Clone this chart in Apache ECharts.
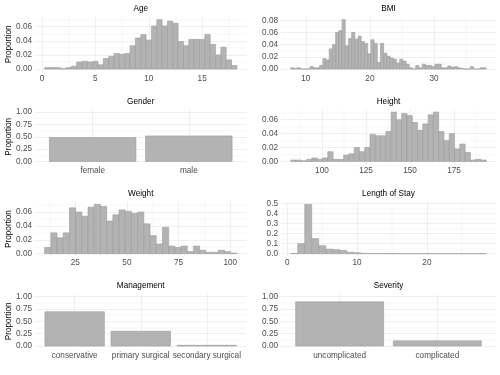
<!DOCTYPE html>
<html><head><meta charset="utf-8">
<script src="https://cdn.jsdelivr.net/npm/echarts@6/dist/echarts.min.js"></script>
<style>html,body{margin:0;padding:0;background:#fff}#c{width:500px;height:375px}</style>
</head><body><div id="c"></div>
<script>
// ---------- DATA ----------
const ageBinStart = 0.25, ageBinWidth = 0.5;
const ageValues = [0.002,0.002,0.002,0.0005,0.002,0.004,0.010,0.011,0.010,0.011,0.006,0.015,
  0.018,0.022,0.021,0.022,0.033,0.044,0.049,0.041,0.061,0.070,0.061,0.068,
  0.065,0.039,0.033,0.042,0.042,0.042,0.049,0.035,0.020,0.031,0.013,0.005];
const ageTicks = [0, 5, 10, 15];

const bmiBinStart = 7.65, bmiBinWidth = 0.5;
const bmiValues = [0.002,0.001,0.002,0,0,0,0.004,0.002,0.002,0.006,0.017,0.015,0.033,0.040,0.060,0.063,
  0.081,0.038,0.050,0.060,0.049,0.054,0.045,0.042,0.025,0.048,0.042,0.011,0.042,0.026,0.021,0.018,
  0.016,0.010,0.016,0.013,0.008,0.002,0,0.006,0.002,0.008,0.006,0.006,0.004,0.008,0.008,0.002,
  0.002,0.005,0.003,0.004,0.002,0.001,0,0,0.004,0,0,0.002,0.002];
const bmiTicks = [10, 20, 30];

const genderCats = ['female', 'male'];
const genderValues = [0.483, 0.517];

const heightBinStart = 82.3, heightBinWidth = 3;
const heightValues = [0.002,0.002,0.001,0.003,0.005,0.003,0.005,0.014,0.003,0.003,0.009,0.011,0.020,
  0.014,0.020,0.039,0.037,0.037,0.043,0.071,0.060,0.069,0.066,0.056,0.045,0.054,0.067,0.071,
  0.043,0.030,0.040,0.018,0.025,0.013,0.002,0.003,0.002];
const heightTicks = [100, 125, 150, 175];

const weightBinStart = 10.2, weightBinWidth = 3;
const weightValues = [0.009,0.030,0.023,0.030,0.066,0.060,0.054,0.067,0.071,0.068,0.047,0.056,0.063,
  0.061,0.058,0.060,0.043,0.026,0.014,0.038,0.011,0.009,0.011,0.003,0.011,0.005,0.002,0.002,
  0.005,0.003,0.001];
const weightTicks = [25, 50, 75, 100];

const losBinStart = 0.5, losBinWidth = 1;
const losValues = [0.003,0.10,0.49,0.15,0.08,0.045,0.04,0.033,0.015,0.01,0.004,0.003,0.003,0.003,
  0.002,0.002,0.001,0.001,0.001,0.001,0.001,0.001,0.0005,0.0005,0.0005,0.0005,0.0005,0.001];
const losTicks = [0, 10, 20];

const managementCats = ['conservative', 'primary surgical', 'secondary surgical'];
const managementValues = [0.694, 0.300, 0.014];

const severityCats = ['uncomplicated', 'complicated'];
const severityValues = [0.895, 0.105];

const propTicks = [0, 0.25, 0.5, 0.75, 1];
const yLabel = 'Proportion';

// ---------- LAYOUT / STYLE ----------
const FONT = '"Liberation Sans", Arial, Helvetica, sans-serif';
const FS = 8.2;
const colLeft = [35, 281], colWidth = [211.5, 215];
const rowTop = [17.2, 109.6, 201.9, 294.2], rowHeight = 54.3;
const GRID_MAJOR = '#ebebeb';

function histData(start, width, values) {
  return values.map((v, i) => [start + i * width, start + (i + 1) * width, v]);
}
function catData(values) {
  return values.map((v, i) => [i + 1 - 0.45, i + 1 + 0.45, v]);
}

const panels = [
  {title:'Age', kind:'hist', data: histData(ageBinStart, ageBinWidth, ageValues), ticks: ageTicks, col:0, row:0},
  {title:'BMI', kind:'hist', data: histData(bmiBinStart, bmiBinWidth, bmiValues), ticks: bmiTicks, col:1, row:0},
  {title:'Gender', kind:'cat', cats: genderCats, data: catData(genderValues), col:0, row:1},
  {title:'Height', kind:'hist', data: histData(heightBinStart, heightBinWidth, heightValues), ticks: heightTicks, col:1, row:1},
  {title:'Weight', kind:'hist', data: histData(weightBinStart, weightBinWidth, weightValues), ticks: weightTicks, col:0, row:2},
  {title:'Length of Stay', kind:'hist', data: histData(losBinStart, losBinWidth, losValues), ticks: losTicks, col:1, row:2, yStep:0.1, yDigits:1},
  {title:'Management', kind:'cat', cats: managementCats, data: catData(managementValues), col:0, row:3},
  {title:'Severity', kind:'cat', cats: severityCats, data: catData(severityValues), col:1, row:3}
];

const grids = [], xAxes = [], yAxes = [], series = [], graphics = [];

panels.forEach((p, k) => {
  const left = colLeft[p.col], top = rowTop[p.row], width = colWidth[p.col];
  grids.push({left: left, top: top, width: width, height: rowHeight, containLabel: false});

  let xmin, xmax, xInt, xFmt, minorX;
  if (p.kind === 'hist') {
    const lo = p.data[0][0], hi = p.data[p.data.length - 1][1];
    const pad = 0.05 * (hi - lo);
    xmin = lo - pad; xmax = hi + pad;
    xInt = p.ticks[1] - p.ticks[0];
    xFmt = v => String(Math.round(v));
    minorX = true;
  } else {
    xmin = 1 - 0.6; xmax = p.cats.length + 0.6;
    xInt = 1;
    const cats = p.cats;
    xFmt = v => { const i = Math.round(v) - 1; return (Math.abs(v - (i + 1)) < 1e-6 && cats[i]) ? cats[i] : ''; };
    minorX = false;
  }

  let ymin, ymax, yInt, yDig;
  if (p.kind === 'hist') {
    const m = Math.max(...p.data.map(d => d[2]));
    ymin = -0.05 * m; ymax = 1.05 * m;
    yInt = p.yStep || 0.02; yDig = p.yDigits || 2;
  } else {
    const lo = propTicks[0], hi = propTicks[propTicks.length - 1];
    ymin = lo - 0.05 * (hi - lo); ymax = hi + 0.05 * (hi - lo);
    yInt = propTicks[1] - propTicks[0]; yDig = 2;
  }

  xAxes.push({
    gridIndex: k, type: 'value', min: xmin, max: xmax,
    minInterval: xInt, maxInterval: xInt, splitNumber: 5,
    axisLine: {show: false, onZero: false}, axisTick: {show: false},
    axisLabel: {show: true, showMinLabel: false, showMaxLabel: false, color: '#4d4d4d',
      fontSize: FS, fontFamily: FONT, margin: 3, formatter: xFmt},
    splitLine: {show: true, showMinLine: false, showMaxLine: false, lineStyle: {color: GRID_MAJOR, width: 0.8}},
    minorTick: {show: false, splitNumber: 2},
    minorSplitLine: {show: minorX, lineStyle: {color: GRID_MAJOR, width: 0.4}}
  });
  yAxes.push({
    gridIndex: k, type: 'value', min: ymin, max: ymax,
    minInterval: yInt, maxInterval: yInt, splitNumber: 5,
    axisLine: {show: false, onZero: false}, axisTick: {show: false},
    axisLabel: {show: true, showMinLabel: false, showMaxLabel: false, color: '#4d4d4d',
      fontSize: FS, fontFamily: FONT, margin: 3, formatter: v => v.toFixed(yDig)},
    splitLine: {show: true, showMinLine: false, showMaxLine: false, lineStyle: {color: GRID_MAJOR, width: 0.8}},
    minorTick: {show: false, splitNumber: 2},
    minorSplitLine: {show: true, lineStyle: {color: GRID_MAJOR, width: 0.4}}
  });
  series.push({
    type: 'custom', xAxisIndex: k, yAxisIndex: k, data: p.data,
    encode: {x: [0, 1], y: 2}, silent: true,
    renderItem: (params, api) => {
      const p0 = api.coord([api.value(0), api.value(2)]);
      const p1 = api.coord([api.value(1), 0]);
      return {type: 'rect',
        shape: {x: p0[0], y: p0[1], width: p1[0] - p0[0], height: p1[1] - p0[1]},
        style: {fill: '#b3b3b3', stroke: '#9c9c9c', lineWidth: 0.6}};
    }
  });
  graphics.push({type: 'text', x: left + width / 2, y: top - 8,
    style: {text: p.title, font: FS + 'px ' + FONT, fill: '#000', align: 'center', verticalAlign: 'middle',
      textAlign: 'center', textVerticalAlign: 'middle'}});
  if (p.col === 0) {
    graphics.push({type: 'text', x: 8.5, y: top + rowHeight / 2, rotation: Math.PI / 2,
      style: {text: yLabel, font: FS + 'px ' + FONT, fill: '#000', align: 'center', verticalAlign: 'middle',
        textAlign: 'center', textVerticalAlign: 'middle'}});
  }
});

const chart = echarts.init(document.getElementById('c'), null, {renderer: 'canvas'});
chart.setOption({
  animation: false,
  backgroundColor: '#fff',
  textStyle: {fontFamily: FONT},
  grid: grids, xAxis: xAxes, yAxis: yAxes, series: series,
  graphic: {elements: graphics}
});
</script></body></html>
